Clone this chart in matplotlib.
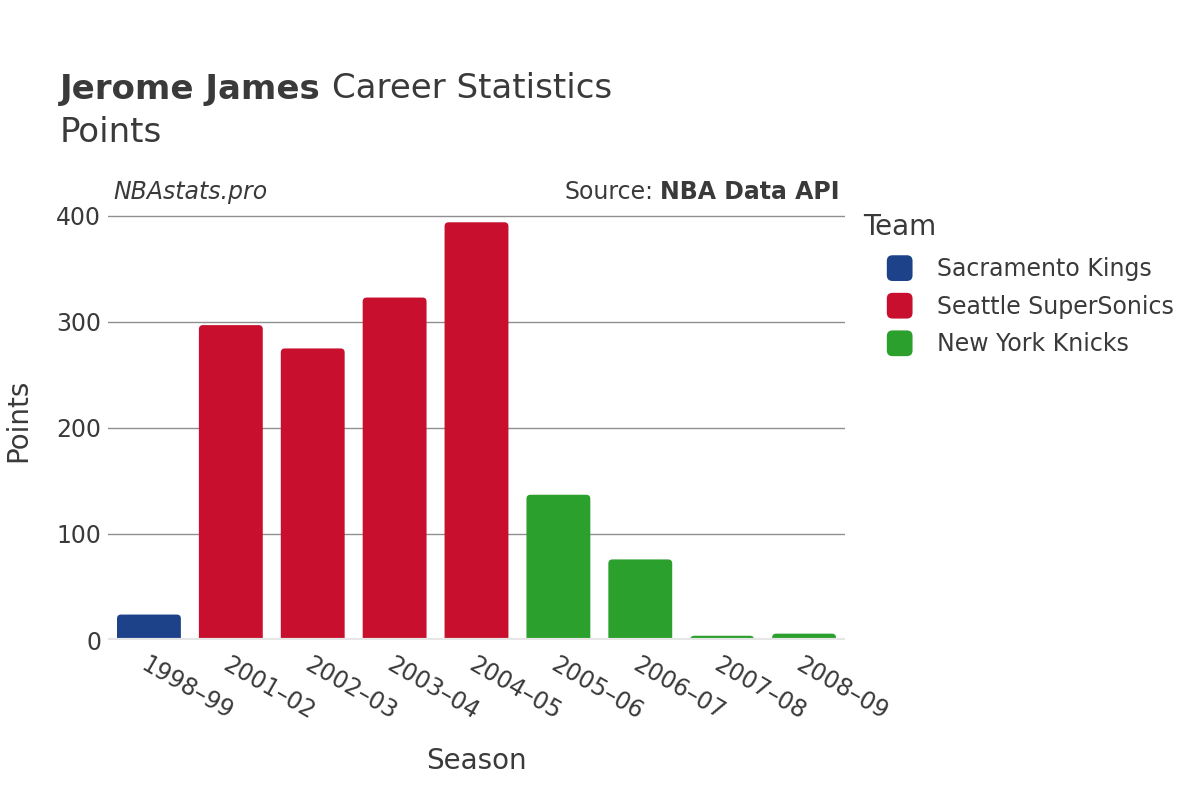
import matplotlib.pyplot as plt
from matplotlib.patches import FancyBboxPatch, Patch
from matplotlib.legend_handler import HandlerPatch

# -------------------------------
# Data
# -------------------------------
seasons = ["1998–99", "2001–02", "2002–03", "2003–04", "2004–05",
           "2005–06", "2006–07", "2007–08", "2008–09"]
points = [24, 297, 275, 323, 394, 137, 76, 4, 6]
teams = ["Sacramento Kings", "Seattle SuperSonics", "Seattle SuperSonics",
         "Seattle SuperSonics", "Seattle SuperSonics", "New York Knicks",
         "New York Knicks", "New York Knicks", "New York Knicks"]
team_order = ["Sacramento Kings", "Seattle SuperSonics", "New York Knicks"]
team_colors = {"Sacramento Kings": "#1D428A",
               "Seattle SuperSonics": "#C8102E",
               "New York Knicks": "#2CA02C"}

TEXT = "#3a3a3a"


class RoundBox(HandlerPatch):
    """Legend key drawn as a small rounded square."""
    def create_artists(self, legend, orig_handle, xdescent, ydescent,
                       width, height, fontsize, trans):
        s = min(width, height)
        x0 = -xdescent + (width - s) / 2
        y0 = -ydescent + (height - s) / 2
        p = FancyBboxPatch((x0, y0), s, s,
                           boxstyle="round,pad=0,rounding_size=%f" % (s * 0.22),
                           facecolor=orig_handle.get_facecolor(),
                           edgecolor="none", transform=trans)
        return [p]


# -------------------------------
# Figure
# -------------------------------
fig = plt.figure(figsize=(12, 8), dpi=100)
ax = fig.add_axes([108 / 1200, 1 - 640 / 800, (845 - 108) / 1200, 440 / 800])

ymax = 415
ax.set_xlim(-0.5, len(seasons) - 0.5)
ax.set_ylim(0, ymax)

# rounded-top bars, bottom pushed below zero so only the top corners show
bar_w = 0.78
px_x = ax.get_position().width * 1200 / len(seasons)
px_y = ax.get_position().height * 800 / ymax
aspect = px_x / px_y
for i, (v, t) in enumerate(zip(points, teams)):
    p = FancyBboxPatch((i - bar_w / 2, -10), bar_w, v + 10,
                       boxstyle="round,pad=0,rounding_size=0.05",
                       mutation_aspect=aspect,
                       facecolor=team_colors[t], edgecolor="none", zorder=2)
    ax.add_patch(p)

for y in [100, 200, 300, 400]:
    ax.axhline(y, color="#8f8f8f", lw=1, zorder=1)
ax.axhline(0, color="#e6e6e6", lw=3, zorder=3)

for s in ax.spines.values():
    s.set_visible(False)
ax.tick_params(length=0, labelsize=17, labelcolor=TEXT, pad=5)
ax.set_yticks([0, 100, 200, 300, 400])
ax.set_xticks(range(len(seasons)))
ax.set_xticklabels(seasons, rotation=-30, ha="left", va="top",
                   rotation_mode="anchor", fontsize=17)
ax.tick_params(axis="x", pad=9)

ax.set_xlabel("Season", fontsize=20, color=TEXT, labelpad=16)
ax.set_ylabel("Points", fontsize=20, color=TEXT, labelpad=17)

# -------------------------------
# Titles and notes
# -------------------------------
fig.canvas.draw()
renderer = fig.canvas.get_renderer()

t1 = fig.text(60 / 1200, 1 - 89 / 800, "Jerome James", fontsize=24.5,
              weight="bold", color=TEXT, va="center", ha="left")
bb = t1.get_window_extent(renderer)
fig.text((bb.x1 + 11) / 1200, 1 - 89 / 800, "Career Statistics",
         fontsize=24.5, color=TEXT, va="center", ha="left")
fig.text(60 / 1200, 1 - 133 / 800, "Points", fontsize=24.5, color=TEXT,
         va="center", ha="left")
fig.text(113 / 1200, 1 - 192 / 800, "NBAstats.pro", fontsize=17,
         style="italic", color=TEXT, va="center", ha="left")
t2 = fig.text(840 / 1200, 1 - 192 / 800, "NBA Data API", fontsize=17,
              weight="bold", color=TEXT, va="center", ha="right")
bb2 = t2.get_window_extent(renderer)
fig.text((bb2.x0 - 7) / 1200, 1 - 192 / 800, "Source:", fontsize=17,
         color=TEXT, va="center", ha="right")

# legend: title placed on its own, entries below
fig.text(863 / 1200, 1 - 227 / 800, "Team", fontsize=20, color=TEXT,
         va="center", ha="left")
handles = [Patch(facecolor=team_colors[t], edgecolor="none", label=t)
           for t in team_order]
leg = fig.legend(handles=handles, loc="upper left",
                 bbox_to_anchor=(856 / 1200, 1 - 234 / 800), frameon=False,
                 fontsize=17, handlelength=1.9,
                 handleheight=1.3, handletextpad=0.65, labelspacing=0.5,
                 handler_map={Patch: RoundBox()})
for txt in leg.get_texts():
    txt.set_color(TEXT)

fig.savefig("out.png", dpi=100)
